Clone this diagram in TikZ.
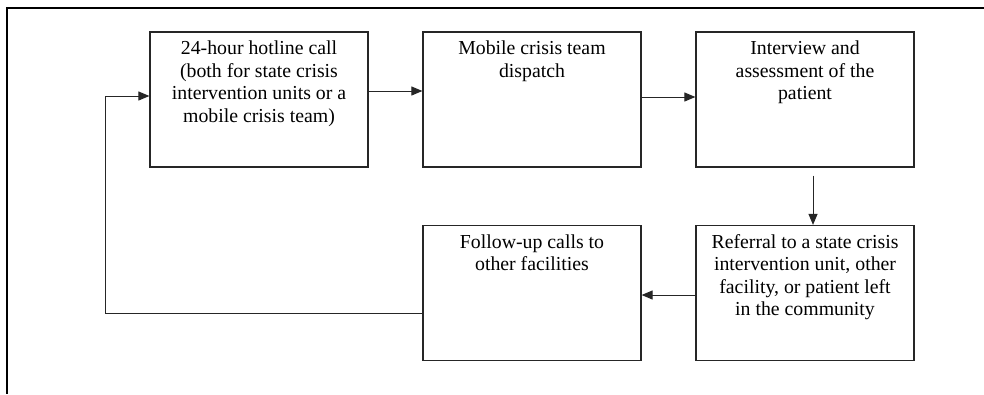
\documentclass[tikz,border=0pt]{standalone}
\usepackage{fontspec}
\setmainfont{Liberation Serif}
\usetikzlibrary{arrows.meta}
\tikzset{
  box/.style={draw=black!85, line width=1.2pt, inner sep=0pt, fill=white},
  conn/.style={draw=black!85, line width=1pt, -{Triangle[length=11pt,width=9pt]}},
  frameline/.style={draw=black, line width=1.4pt}
}
\newcommand{\boxtext}[1]{\parbox[c][135pt][t]{218pt}{\centering\fontsize{19.8pt}{22.6pt}\selectfont\rule{0pt}{22.5pt}#1\par}}
\begin{document}
\begin{tikzpicture}[x=1pt,y=-1pt]
\useasboundingbox (0,0) rectangle (984,394);
\coordinate (ftl) at (7,8);
\coordinate (ftr) at (984,8);
\coordinate (fbl) at (7,394);
\draw[frameline] (ftr) -- (ftl) -- (fbl);

\node[box] (b1) at (259,99.5) {\boxtext{24-hour hotline call\\(both for state crisis\\intervention units or a\\mobile crisis team)}};
\node[box] (b2) at (532,99.5) {\boxtext{Mobile crisis team\\dispatch}};
\node[box] (b3) at (805,99.5) {\boxtext{Interview and\\assessment of the\\patient}};
\node[box] (b4) at (805,293) {\boxtext{Referral to a state crisis\\intervention unit, other\\facility, or patient left\\in the community}};
\node[box] (b5) at (532,293) {\boxtext{Follow-up calls to\\other facilities}};

\draw[conn] (b1.east |- 0,91) -- (b2.west |- 0,91);
\draw[conn] (b2.east |- 0,97) -- (b3.west |- 0,97);
\draw[conn] ([yshift=-8pt]b3.south -| 813,0) -- (b4.north -| 813,0);
\draw[conn] (b4.west |- 0,295) -- (b5.east |- 0,295);
\coordinate (lb) at (105,313);
\coordinate (lt) at (105,96);
\draw[conn] (b5.west |- lb) -- (lb) -- (lt) -- (b1.west |- lt);
\end{tikzpicture}
\end{document}
